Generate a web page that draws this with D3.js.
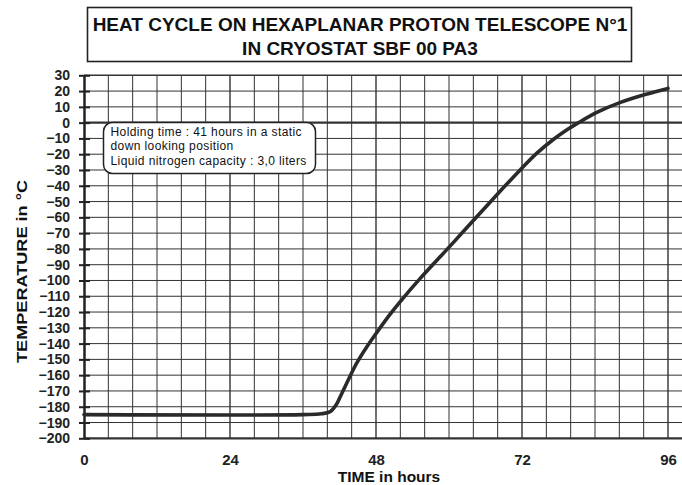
<!DOCTYPE html>
<html>
<head>
<meta charset="utf-8">
<title>Heat cycle</title>
<script src="https://d3js.org/d3.v7.min.js"></script>
<style>
    body { margin: 0; background: #fff; }
    svg { display: block; font-family: "Liberation Sans", Arial, sans-serif; }
</style>
</head>
<body>
<div id="container"></div>
<script>
    // values
    const hours = [0, 36, 39, 40.5, 41.5, 42.2, 43.2, 44.8, 46.5, 48.4, 50.3, 52.5,
                   55.2, 60.7, 64, 67.8, 71.7, 74.4, 77.2, 79.4, 81.3, 84.3, 88.3, 92.4, 96]
    const temps = [-185, -185, -184.5, -183, -178.5, -173, -165, -152.6, -142, -131.5, -121.5, -111,
                   -99, -76, -62, -46, -30, -19.5, -10.5, -4.5, 0, 6.5, 13, 18, 21.7]
    const xTicks = [0, 24, 48, 72, 96]
    const yTicks = [30, 20, 10, 0, -10, -20, -30, -40, -50, -60, -70, -80, -90, -100, -110,
                    -120, -130, -140, -150, -160, -170, -180, -190, -200]
    const titleLines = ['HEAT CYCLE ON HEXAPLANAR PROTON TELESCOPE N°1', 'IN CRYOSTAT SBF 00 PA3']
    const noteLines = ['Holding time : 41 hours in a static', 'down looking position', 'Liquid nitrogen capacity : 3,0 liters']

    const dimensions = { width: 682, height: 485 }
    const data = hours.map((h, i) => ({ h: h, t: temps[i] }))

    const svg = d3.select('#container')
        .append('svg')
        .attr('width', dimensions.width)
        .attr('height', dimensions.height)

    const x = d3.scaleLinear().domain([0, 96]).range([84, 668])
    const y = d3.scaleLinear().domain([-200, 30]).range([438.3, 75.3])
    const right = dimensions.width

    // grid: every 4 hours / every 10 degrees
    const grid = svg.append('g')
    grid.selectAll('line.v')
        .data(d3.range(4, 100, 4))
        .join('line')
        .attr('x1', d => x(d)).attr('x2', d => x(d))
        .attr('y1', y(30)).attr('y2', y(-200))
        .attr('stroke', '#333')
        .attr('stroke-width', d => d % 24 === 0 ? 1.4 : 1)

    grid.selectAll('line.h')
        .data(yTicks)
        .join('line')
        .attr('x1', x(0)).attr('x2', right)
        .attr('y1', d => y(d)).attr('y2', d => y(d))
        .attr('stroke', '#333')
        .attr('stroke-width', d => d === 0 || d === -200 ? 2.2 : (d === 30 ? 1.6 : 1))

    // left axis with ticks crossing it
    const yAxis = d3.axisLeft(y).tickValues(yTicks).tickSize(0).tickPadding(14)
    const ya = svg.append('g').attr('transform', `translate(${x(0)},0)`).call(yAxis)
    ya.select('.domain').attr('stroke', '#222').attr('stroke-width', 2.5)
    ya.selectAll('.tick text')
        .attr('font-size', 14).attr('font-weight', 'bold').attr('fill', '#222')
        .attr('font-family', '"Liberation Sans", Arial, sans-serif')
    ya.selectAll('.tick').append('line')
        .attr('x1', -5).attr('x2', 6)
        .attr('stroke', '#222').attr('stroke-width', 2)

    const xAxis = d3.axisBottom(x).tickValues(xTicks).tickSize(0).tickPadding(16)
    const xa = svg.append('g').attr('transform', `translate(0,${y(-200)})`).call(xAxis)
    xa.select('.domain').remove()
    xa.selectAll('.tick text')
        .attr('font-size', 15).attr('font-weight', 'bold').attr('fill', '#222')
        .attr('font-family', '"Liberation Sans", Arial, sans-serif')

    // curve
    const line = d3.line()
        .x(d => x(d.h))
        .y(d => y(d.t))
        .curve(d3.curveCatmullRom.alpha(0.5))

    svg.append('path')
        .datum(data)
        .attr('d', line)
        .attr('fill', 'none')
        .attr('stroke', '#2a2a2a')
        .attr('stroke-width', 3.6)
        .attr('stroke-linecap', 'round')

    // note box
    svg.append('rect')
        .attr('x', 103.5).attr('y', 122.5)
        .attr('width', 212).attr('height', 51)
        .attr('rx', 9)
        .attr('fill', '#fff').attr('stroke', '#222').attr('stroke-width', 1.5)

    svg.append('g').selectAll('text')
        .data(noteLines)
        .join('text')
        .attr('x', 110.5)
        .attr('y', (d, i) => 135.5 + i * 14.5)
        .attr('font-size', 12)
        .attr('letter-spacing', 0.4)
        .attr('fill', '#111')
        .text(d => d)

    // title box
    svg.append('rect')
        .attr('x', 87.5).attr('y', 7.5)
        .attr('width', 544).attr('height', 54)
        .attr('fill', '#fff').attr('stroke', '#222').attr('stroke-width', 1.6)

    svg.append('g').selectAll('text')
        .data(titleLines)
        .join('text')
        .attr('x', 360)
        .attr('y', (d, i) => 30.5 + i * 24.5)
        .attr('text-anchor', 'middle')
        .attr('font-size', 19)
        .attr('font-weight', 'bold')
        .attr('fill', '#111')
        .text(d => d)

    // axis titles
    svg.append('text')
        .attr('x', 389).attr('y', 481.5)
        .attr('text-anchor', 'middle')
        .attr('font-size', 15.5).attr('font-weight', 'bold').attr('fill', '#111')
        .text('TIME in hours')

    svg.append('text')
        .attr('transform', 'translate(27,271.5) rotate(-90)')
        .attr('text-anchor', 'middle')
        .attr('font-size', 14).attr('font-weight', 'bold').attr('fill', '#111')
        .attr('textLength', 183).attr('lengthAdjust', 'spacingAndGlyphs')
        .text('TEMPERATURE in °C')
</script>
</body>
</html>
